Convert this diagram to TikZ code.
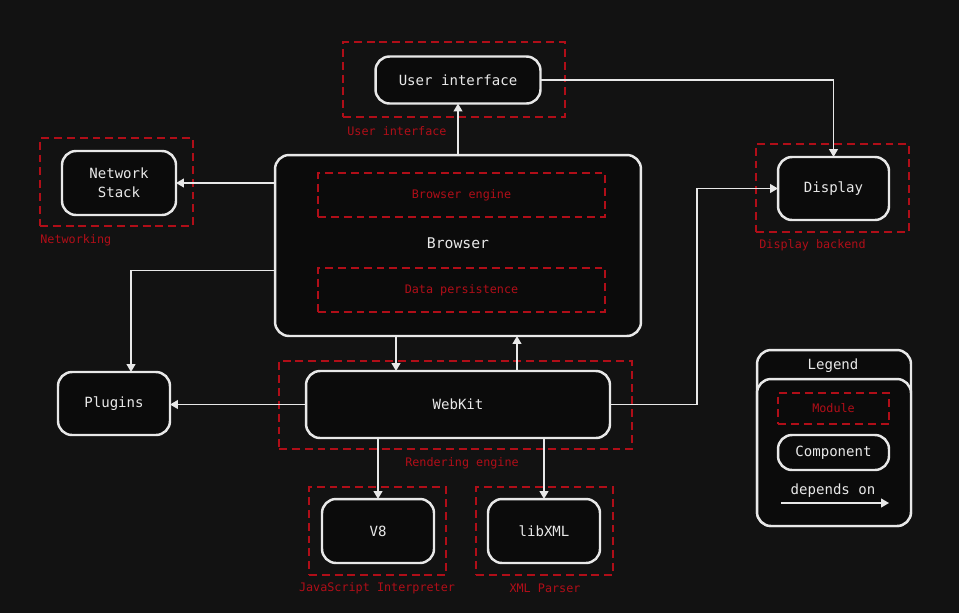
\documentclass[tikz,border=0pt]{standalone}
\usepackage{fontspec}
\setmonofont{DejaVu Sans Mono}
\usepackage{tikz}
\usetikzlibrary{arrows.meta}
\definecolor{bgdark}{RGB}{18,18,18}
\definecolor{boxdark}{RGB}{11,11,11}
\definecolor{modred}{RGB}{176,14,24}
\definecolor{txtwhite}{RGB}{232,232,232}
\tikzstyle{comp}=[draw=txtwhite, line width=1.4pt, fill=boxdark, rounded corners=8pt, inner sep=0pt, outer sep=0pt, align=center, text=txtwhite, font=\ttfamily\fontsize{8}{10.8}\selectfont]
\tikzstyle{module}=[draw=modred, line width=1.1pt, dash pattern=on 4.5pt off 2.8pt, inner sep=0pt, outer sep=0pt, text=modred, font=\ttfamily\fontsize{6.7}{8}\selectfont]
\tikzstyle{modlabel}=[text=modred, inner sep=0pt, font=\ttfamily\fontsize{6.7}{8}\selectfont]
\tikzstyle{dep}=[draw=txtwhite, line width=0.85pt, -{Triangle[length=4.5pt,width=5pt]}]

\begin{document}
\begin{tikzpicture}[x=0.02cm, y=-0.02cm]
            \fill[bgdark] (0,0) rectangle (959,613);
            \useasboundingbox (0,0) rectangle (959,613);

            %%%%% Modules
            \node[module, minimum width=4.44cm, minimum height=1.5cm] (uimod) at (454,79.5) {};
            \node[modlabel, anchor=west] at (347,131) {User interface};
            \node[module, minimum width=3.06cm, minimum height=1.76cm] (netmod) at (116.5,182) {};
            \node[modlabel, anchor=west] at (40,240) {Networking};
            \node[module, minimum width=3.06cm, minimum height=1.76cm] (dispmod) at (832.5,188) {};
            \node[modlabel, anchor=west] at (759,245) {Display backend};
            \node[module, minimum width=7.06cm, minimum height=1.76cm] (rendmod) at (455.5,405) {};
            \node[modlabel] at (462,463) {Rendering engine};
            \node[module, minimum width=2.74cm, minimum height=1.76cm] (jsmod) at (377.5,531) {};
            \node[modlabel] at (377,588) {JavaScript Interpreter};
            \node[module, minimum width=2.74cm, minimum height=1.76cm] (xmlmod) at (544.5,531) {};
            \node[modlabel] at (545,588) {XML Parser};

            %%%%% Components
            \node[comp, minimum width=3.3cm, minimum height=0.94cm] (ui) at (458,80) {User interface};
            \node[comp, minimum width=2.28cm, minimum height=1.28cm] (net) at (119,183) {Network\\Stack};
            \node[comp, minimum width=7.32cm, minimum height=3.62cm] (browser) at (458,245.5) {};
            \node[text=txtwhite, font=\ttfamily\fontsize{8.4}{10}\selectfont] (browsertxt) at (458,243) {Browser};
            \node[module, minimum width=5.74cm, minimum height=0.88cm] (engmod) at (461.5,195) {Browser engine};
            \node[module, minimum width=5.74cm, minimum height=0.88cm] (datamod) at (461.5,290) {Data persistence};
            \node[comp, minimum width=2.22cm, minimum height=1.26cm] (display) at (833.5,188.5) {Display};
            \node[comp, minimum width=2.24cm, minimum height=1.26cm] (plugins) at (114,403.5) {Plugins};
            \node[comp, minimum width=6.08cm, minimum height=1.34cm] (webkit) at (458,404.5) {WebKit};
            \node[comp, minimum width=2.24cm, minimum height=1.28cm] (v8) at (378,531) {V8};
            \node[comp, minimum width=2.24cm, minimum height=1.28cm] (libxml) at (544,531) {libXML};

            %%%%% Dependencies
            \draw[dep] (browser.north) -- (ui.south);
            \draw[dep] (ui.east) -| (display.north);
            \draw[dep] (browser.west |- net.east) -- (net.east);
            \draw[dep] ([yshift=-0.5cm]browser.west) -| ([xshift=0.34cm]plugins.north);
            \draw[dep] ([xshift=-1.24cm]browser.south) -- ([xshift=-1.24cm]webkit.north);
            \draw[dep] ([xshift=1.18cm]webkit.north) -- ([xshift=1.18cm]browser.south);
            \draw[dep] (webkit.west) -- (webkit.west -| plugins.east);
            \draw[dep] (webkit.east) -- ++(87,0) |- (display.west);
            \draw[dep] (webkit.south -| v8.north) -- (v8.north);
            \draw[dep] (webkit.south -| libxml.north) -- (libxml.north);

            %%%%% Legend
            \node[comp, minimum width=3.08cm, minimum height=3.52cm] (legend) at (834,438) {};
            \node[text=txtwhite, font=\ttfamily\fontsize{8}{10}\selectfont] (legendtitle) at (833,366) {Legend};
            \node[comp, minimum width=3.08cm, minimum height=2.94cm] (legendbody) at (834,452.5) {};
            \node[module, minimum width=2.22cm, minimum height=0.62cm] (keymod) at (833.5,408.5) {Module};
            \node[comp, minimum width=2.22cm, minimum height=0.7cm] (keycomp) at (833.5,452.5) {Component};
            \node[text=txtwhite, font=\ttfamily\fontsize{8}{10}\selectfont] (keytxt) at (833,491) {depends on};
            \coordinate (keya) at (781,503);
            \coordinate (keyb) at (889,503);
            \draw[dep] (keya) -- (keyb);
\end{tikzpicture}
\end{document}
